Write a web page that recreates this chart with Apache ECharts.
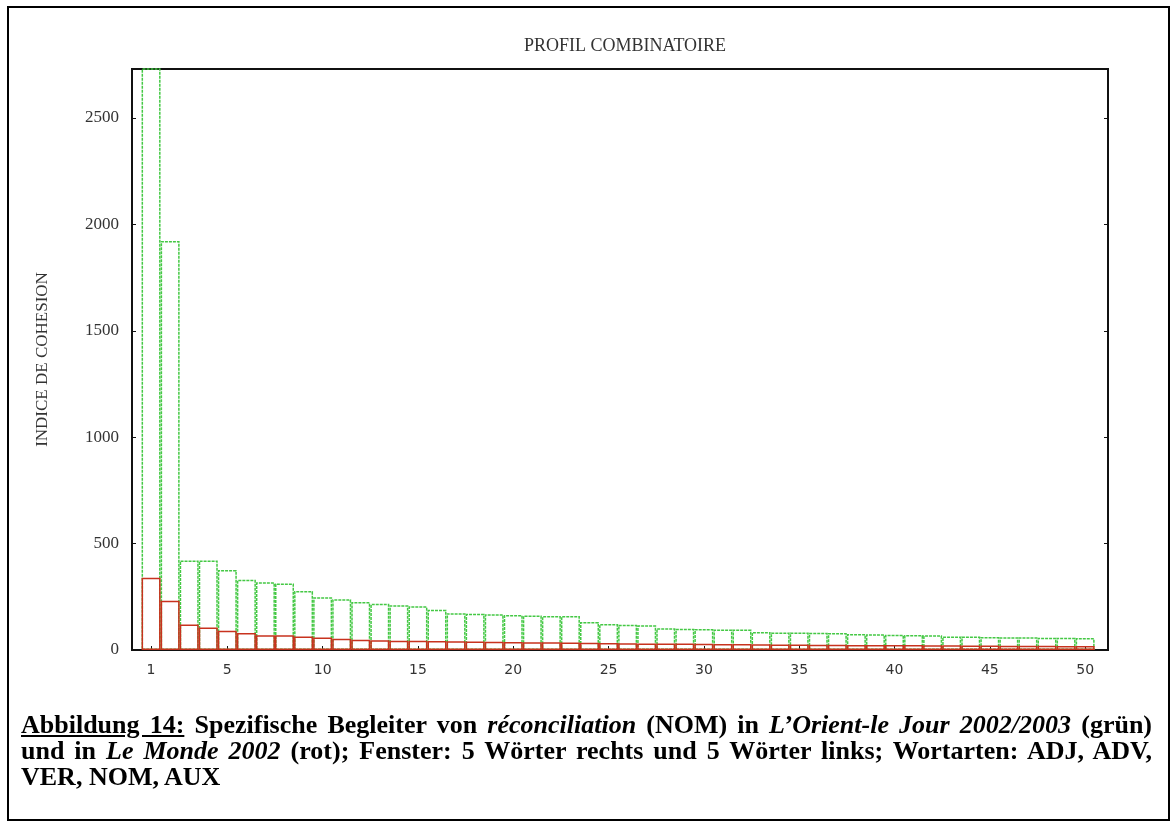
<!DOCTYPE html>
<html>
<head>
<meta charset="utf-8">
<script src="https://cdn.jsdelivr.net/npm/echarts@6/dist/echarts.min.js"></script>
<style>
  html, body { margin: 0; padding: 0; background: #fff; }
  #wrap { position: relative; width: 1172px; height: 821px; overflow: hidden; }
  #chart { position: absolute; left: 0; top: 0; width: 1172px; height: 821px; }
  #frame { position: absolute; left: 7px; top: 6px; width: 1159px; height: 811px; border: 2px solid #000; pointer-events: none; }
  #caption { position: absolute; left: 21px; top: 712px; width: 1131px; font-family: "Liberation Serif", "Times New Roman", serif; font-weight: bold; font-size: 26px; line-height: 26px; color: #000; text-align: justify; }
  #caption u { text-decoration: underline; }
</style>
</head>
<body>
<div id="wrap">
  <div id="chart"></div>
  <div id="frame"></div>
  <div id="caption"><u>Abbildung 14:</u> Spezifische Begleiter von <i>réconciliation</i> (NOM) in <i>L’Orient-le Jour 2002/2003</i> (grün) und in <i>Le Monde 2002</i> (rot); Fenster: 5 Wörter rechts und 5 Wörter links; Wortarten: ADJ, ADV, VER, NOM, AUX</div>
</div>
<script>
const ranks = [];
for (let i = 1; i <= 50; i++) ranks.push(i);
const greenValues = [3000, 1922, 421, 421, 376, 330, 318, 313, 277, 248,
                     239, 225, 217, 210, 205, 189, 173, 170, 168, 165,
                     162, 160, 160, 132, 122, 119, 116, 102, 100, 99,
                     96, 96, 85, 82, 82, 81, 80, 75, 74, 72,
                     70, 69, 64, 63, 61, 60, 60, 58, 58, 56];
const redValues = [340, 231, 120, 106, 90, 80, 69, 69, 64, 59,
                   53, 48, 46, 44, 43, 42, 41, 40, 39, 38,
                   37, 36, 35, 34, 33, 32, 31, 30, 30, 29,
                   28, 28, 27, 26, 26, 25, 25, 24, 24, 23,
                   23, 22, 22, 21, 21, 20, 20, 20, 19, 19];
const xTicks = [1, 5, 10, 15, 20, 25, 30, 35, 40, 45, 50];
const yTicks = [0, 500, 1000, 1500, 2000, 2500];

const chart = echarts.init(document.getElementById('chart'), null, { renderer: 'canvas' });
const greenData = ranks.map((r, i) => [r, greenValues[i]]);
const redData = ranks.map((r, i) => [r, redValues[i]]);

chart.setOption({
  animation: false,
  backgroundColor: '#fff',
  title: {
    text: 'PROFIL COMBINATOIRE',
    left: 620, top: 32, textAlign: 'center',
    textStyle: { fontFamily: 'Liberation Serif', fontWeight: 'normal', fontSize: 18, color: '#333' }
  },
  grid: { left: 132, right: 64, top: 69, bottom: 171, show: true, borderColor: '#111', borderWidth: 2, backgroundColor: 'transparent' },
  xAxis: {
    type: 'value', min: 0, max: 51.2,
    axisLine: { show: true, lineStyle: { color: '#111', width: 2 } },
    axisTick: { show: true, inside: true, length: 4, customValues: xTicks, lineStyle: { color: '#111' } },
    axisLabel: { customValues: xTicks, margin: 13, fontFamily: 'DejaVu Sans', fontSize: 14, color: '#333' },
    splitLine: { show: false }
  },
  yAxis: [{
    type: 'value', min: 0, max: 2730,
    name: 'INDICE DE COHESION', nameLocation: 'middle', nameGap: 81, nameRotate: 90,
    nameTextStyle: { fontFamily: 'Liberation Serif', fontSize: 17, color: '#333' },
    axisLine: { show: true, lineStyle: { color: '#111', width: 2 } },
    axisTick: { show: true, inside: true, length: 4, customValues: yTicks, lineStyle: { color: '#111' } },
    axisLabel: { customValues: yTicks, margin: 13, fontFamily: 'Liberation Serif', fontSize: 17, color: '#333', formatter: v => String(v) },
    splitLine: { show: false }
  }, {
    type: 'value', min: 0, max: 2730, position: 'right',
    axisLine: { show: true, lineStyle: { color: '#111', width: 2 } },
    axisTick: { show: true, inside: true, length: 4, customValues: yTicks, lineStyle: { color: '#111' } },
    axisLabel: { show: false },
    splitLine: { show: false }
  }],
  series: [{
    name: 'grün', type: 'bar', data: greenData, barWidth: 19, barGap: '-100%',
    clip: true,
    itemStyle: { color: 'rgba(255,255,255,0)', borderColor: '#44c844', borderWidth: 1.5, borderType: [3, 1] }
  }, {
    name: 'rot', type: 'bar', data: redData, barWidth: 19, barGap: '-100%',
    clip: true,
    itemStyle: { color: 'rgba(255,255,255,0)', borderColor: '#c8321e', borderWidth: 1.5 }
  }]
});
</script>
</body>
</html>
